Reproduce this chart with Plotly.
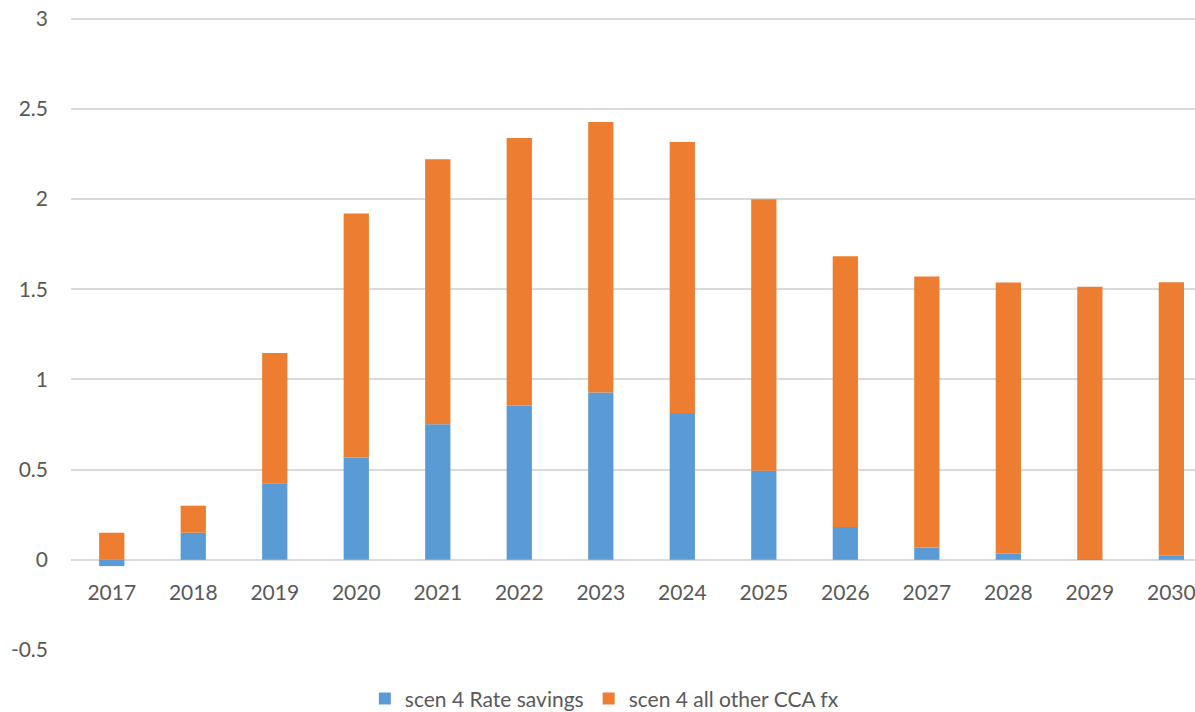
import plotly.graph_objects as go

years = ["2017", "2018", "2019", "2020", "2021", "2022", "2023", "2024",
         "2025", "2026", "2027", "2028", "2029", "2030"]
rate_savings = [-0.035, 0.15, 0.425, 0.567, 0.752, 0.855, 0.927, 0.814,
                0.493, 0.182, 0.068, 0.033, 0.003, 0.022]
other_cca = [0.15, 0.15, 0.722, 1.353, 1.469, 1.483, 1.50, 1.502,
             1.505, 1.50, 1.503, 1.504, 1.51, 1.517]
y_tick_vals = [-0.5, 0, 0.5, 1, 1.5, 2, 2.5, 3]
y_tick_text = ["-0.5", "0", "0.5", "1", "1.5", "2", "2.5", "3"]

FONT = "Lato"
GRAY = "#595959"
GRID = "#D9D9D9"
Y_MIN, Y_MAX = -0.5, 3.02

fig = go.Figure()
fig.add_trace(go.Bar(x=years, y=rate_savings, name="scen 4 Rate savings",
                     marker=dict(color="#5B9BD5", line=dict(width=0))))
fig.add_trace(go.Bar(x=years, y=other_cca, name="scen 4 all other CCA fx",
                     marker=dict(color="#ED7D31", line=dict(width=0))))

fig.update_layout(
    width=1195, height=712,
    margin=dict(l=71, r=0, t=15, b=62, autoexpand=False),
    barmode="relative",
    bargap=0.69,
    plot_bgcolor="white",
    paper_bgcolor="white",
    font=dict(family=FONT, size=21, color=GRAY),
    showlegend=True,
    legend=dict(orientation="h", x=0.4745, xanchor="center", y=-0.077,
                yanchor="middle", font=dict(size=21, color=GRAY),
                itemwidth=30, traceorder="normal"),
    xaxis=dict(
        type="category",
        range=[-0.5, 13.29],
        anchor="free",
        position=(0 - Y_MIN) / (Y_MAX - Y_MIN),
        showgrid=False,
        showline=False,
        ticks="",
        automargin=False,
        ticklabelstandoff=18,
        tickfont=dict(family=FONT, size=21, color=GRAY),
    ),
    yaxis=dict(
        range=[Y_MIN, Y_MAX],
        tickmode="array",
        tickvals=y_tick_vals,
        ticktext=y_tick_text,
        showgrid=True,
        gridcolor=GRID,
        gridwidth=1.5,
        zeroline=True,
        zerolinecolor=GRID,
        zerolinewidth=1.5,
        showline=False,
        ticks="",
        automargin=False,
        ticklabelstandoff=22,
        tickfont=dict(family=FONT, size=21, color=GRAY),
    ),
)

fig.write_html(
    "out.html",
    config={"displayModeBar": False},
    post_script="document.body.style.margin='0';document.body.style.overflow='hidden';",
)
